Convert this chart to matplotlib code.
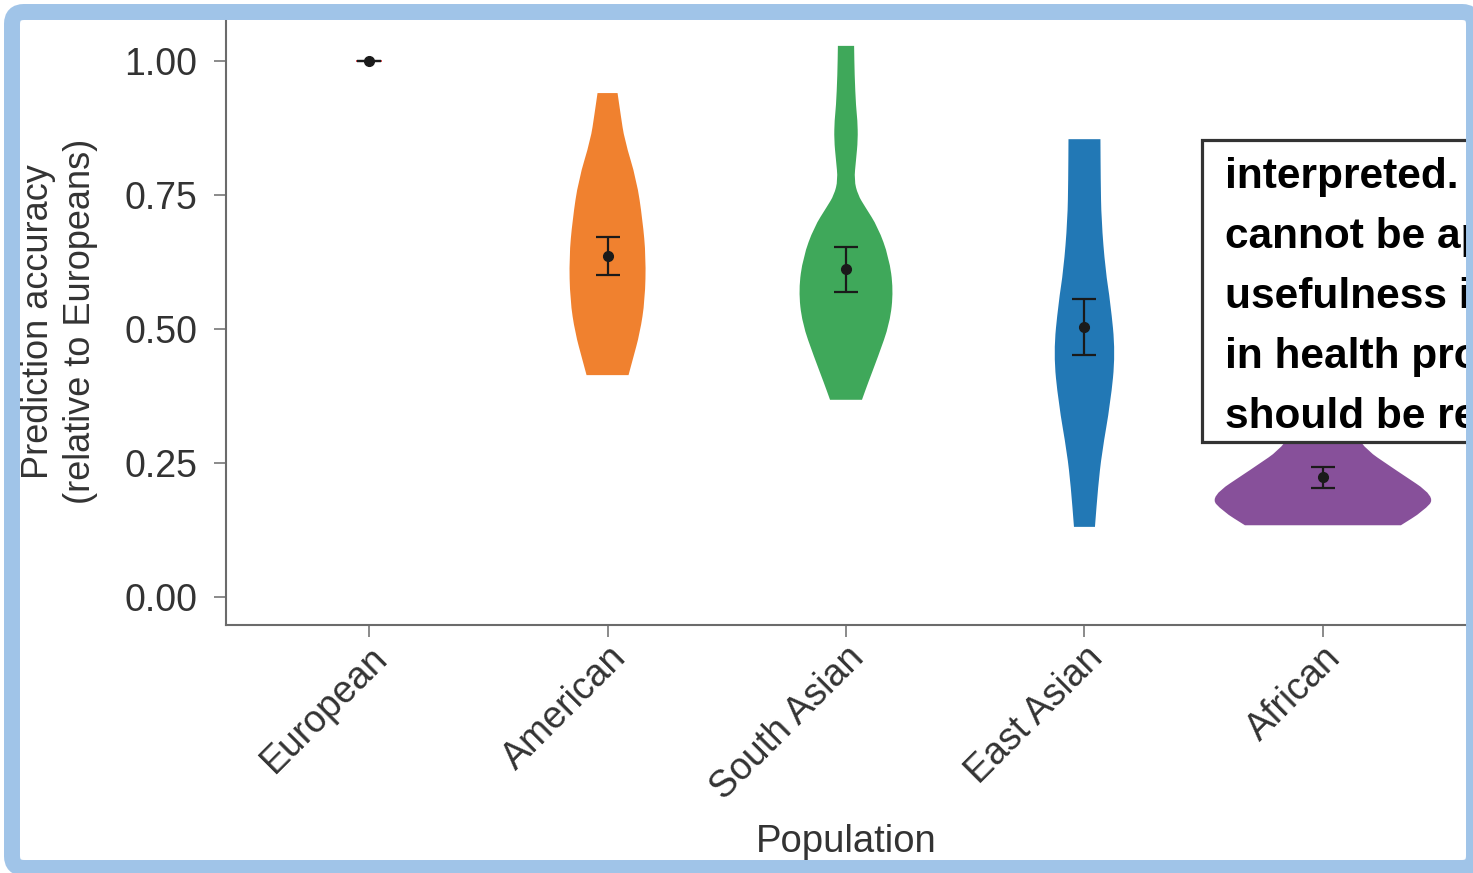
import matplotlib.pyplot as plt
from matplotlib.patches import Rectangle, FancyBboxPatch, PathPatch
from matplotlib.path import Path
from matplotlib.transforms import IdentityTransform

plt.rcParams['font.family'] = ['Liberation Sans', 'DejaVu Sans']

populations = ["European", "American", "South Asian", "East Asian", "African"]
colors = ["#c8323a", "#f0812f", "#3fa85a", "#2278b5", "#87509a"]

# violin outlines: y level and half width (x units)
american_y = [0.940, 0.900, 0.853, 0.778, 0.703, 0.634, 0.554, 0.493, 0.442, 0.414]
american_w = [0.042, 0.055, 0.071, 0.122, 0.147, 0.161, 0.157, 0.136, 0.105, 0.088]

south_asian_y = [1.028, 0.974, 0.914, 0.890, 0.853, 0.815, 0.778, 0.750, 0.728, 0.690,
                 0.634, 0.573, 0.511, 0.448, 0.399, 0.368]
south_asian_w = [0.034, 0.036, 0.042, 0.048, 0.050, 0.042, 0.034, 0.050, 0.080, 0.134,
                 0.180, 0.199, 0.184, 0.134, 0.092, 0.067]

east_asian_y = [0.854, 0.780, 0.703, 0.610, 0.549, 0.455, 0.362, 0.269, 0.205, 0.131]
east_asian_w = [0.067, 0.068, 0.071, 0.088, 0.109, 0.130, 0.109, 0.073, 0.057, 0.044]

african_y = [0.450, 0.368, 0.284, 0.237, 0.187, 0.160, 0.134]
african_w = [0.034, 0.063, 0.151, 0.305, 0.475, 0.420, 0.327]

violins = {1: (american_y, american_w), 2: (south_asian_y, south_asian_w),
           3: (east_asian_y, east_asian_w), 4: (african_y, african_w)}

means = [1.0, 0.636, 0.612, 0.504, 0.224]
ci_low = [1.0, 0.601, 0.569, 0.451, 0.203]
ci_high = [1.0, 0.672, 0.653, 0.556, 0.243]

yticks = [0.0, 0.25, 0.5, 0.75, 1.0]

box_lines = ["interpreted. T", "cannot be ap", "usefulness i", "in health pro", "should be re"]


def soft_side(pts):
    # rounded polyline: curves through midpoints, corners as control points
    verts = [pts[0]]
    codes = [Path.LINETO]
    mid = lambda a, b: ((a[0] + b[0]) / 2, (a[1] + b[1]) / 2)
    verts.append(mid(pts[0], pts[1]))
    codes.append(Path.LINETO)
    for k in range(1, len(pts) - 1):
        verts += [pts[k], mid(pts[k], pts[k + 1])]
        codes += [Path.CURVE3, Path.CURVE3]
    verts.append(pts[-1])
    codes.append(Path.LINETO)
    return verts, codes


W, H = 1473, 873
fig = plt.figure(figsize=(W / 100, H / 100), dpi=100)
ax = fig.add_axes([226 / W, (H - 625) / H, (1466 - 226) / W, (625 - 18) / H])

for i, (ys, ws) in violins.items():
    right = [(i + w, y) for y, w in zip(ys, ws)]
    left = [(i - w, y) for y, w in zip(ys, ws)][::-1]
    v1, c1 = soft_side(right)
    v2, c2 = soft_side(left)
    c1[0] = Path.MOVETO
    verts = v1 + v2 + [right[0]]
    codes = c1 + c2 + [Path.CLOSEPOLY]
    ax.add_patch(PathPatch(Path(verts, codes), facecolor=colors[i], lw=0, zorder=2))
ax.hlines(1.0, -0.055, 0.055, color=colors[0], lw=1.2, zorder=2)

x = list(range(len(populations)))
yerr = [[m - lo for m, lo in zip(means, ci_low)], [hi - m for m, hi in zip(means, ci_high)]]
ax.errorbar(x, means, yerr=yerr, fmt='o', color='#1a1a1a', ms=7, lw=1.6,
            capsize=8.5, capthick=1.6, zorder=3)

ax.set_xlim(-0.6, 4.6)
ax.set_ylim(-0.052, 1.08)
ax.set_yticks(yticks)
ax.set_yticklabels([f"{t:.2f}" for t in yticks])
ax.set_xticks(x)
ax.set_xticklabels(populations, rotation=45, ha='right', va='top', rotation_mode='anchor')

for s in ['top', 'right']:
    ax.spines[s].set_visible(False)
for s in ['left', 'bottom']:
    ax.spines[s].set_color('#6b6b6b')
    ax.spines[s].set_linewidth(1.5)
ax.tick_params(axis='both', colors='#6b6b6b', length=8.5, width=1.1,
               labelsize=27, labelcolor='#333333')
ax.tick_params(axis='y', pad=12)
ax.tick_params(axis='x', pad=2)
for lab in ax.get_xticklabels():
    lab.set_x(lab.get_position()[0])

ax.set_ylabel("Prediction accuracy\n(relative to Europeans)", fontsize=26,
              color='#333333', linespacing=1.25, va='center')
ax.yaxis.set_label_coords(-0.134, 0.5)
ax.set_xlabel("Population", fontsize=27.5, color='#333333', va='center')
ax.xaxis.set_label_coords(0.5, -0.357)

# overlay box from the video frame
px = IdentityTransform()
fig.patches.append(Rectangle((1202, H - 442), 320, 302, transform=px,
                             facecolor='white', edgecolor='#333333', lw=2.3, zorder=5))
for k, line in enumerate(box_lines):
    fig.text(1225 / W, (H - 188 - 60 * k) / H, line, fontsize=30.5, fontweight='bold',
             color='black', va='baseline', ha='left', zorder=6)

# light blue frame
fig.patches.append(FancyBboxPatch((12, 5), 1462, 856, transform=px,
                                  boxstyle="round,pad=0,rounding_size=12",
                                  facecolor='none', edgecolor='#a0c4e8', lw=11.5, zorder=10))

fig.savefig("out.png", dpi=100)
